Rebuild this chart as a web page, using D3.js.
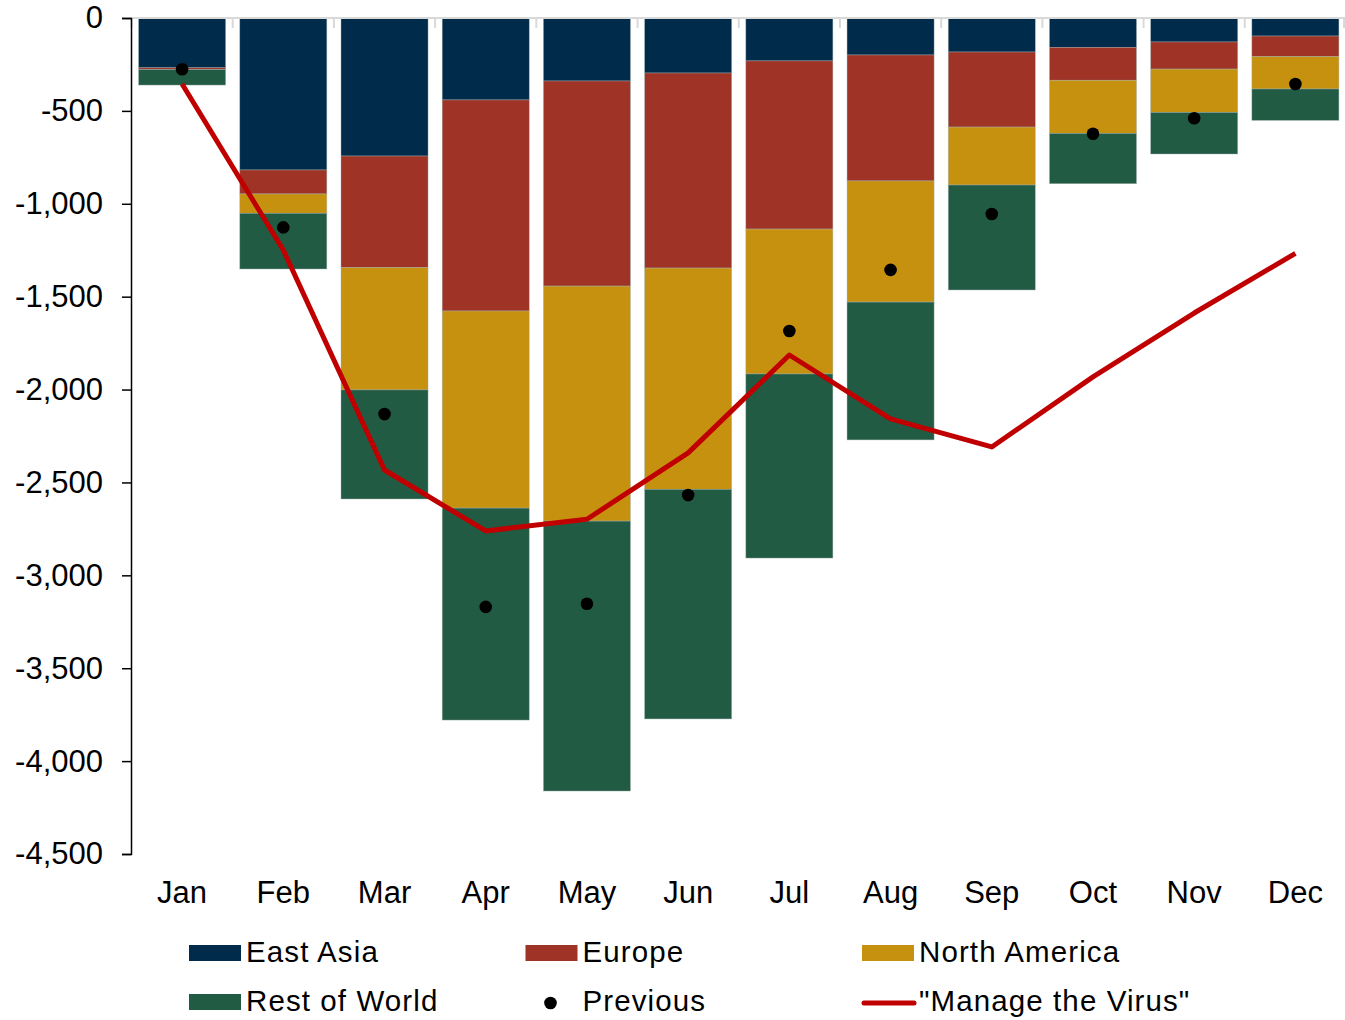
<!DOCTYPE html>
<html><head><meta charset="utf-8">
<script src="https://cdn.jsdelivr.net/npm/d3@7"></script>
<style>
body{margin:0;background:#fff;}
svg{display:block;font-family:"Liberation Sans",Arial,sans-serif;}
</style></head>
<body><svg id="c" width="1345" height="1020"></svg>
<script>
const months = ["Jan","Feb","Mar","Apr","May","Jun","Jul","Aug","Sep","Oct","Nov","Dec"];
const eastAsia     = [-268,-818,-743,-441,-339,-296,-231,-199,-183,-158,-129,-97];
const europe       = [-10,-129,-601,-1136,-1104,-1050,-905,-678,-404,-177,-146,-111];
const northAmerica = [0,-104,-658,-1061,-1265,-1191,-780,-652,-312,-286,-233,-174];
const restOfWorld  = [-83,-300,-587,-1141,-1453,-1236,-991,-742,-565,-271,-224,-169];
const previous     = [-276,-1127,-2132,-3170,-3153,-2568,-1685,-1356,-1055,-623,-540,-355];
const manageVirus  = [-355,-1249,-2433,-2761,-2698,-2341,-1814,-2158,-2309,-1932,-1588,-1267];
const yTicks = [0,-500,-1000,-1500,-2000,-2500,-3000,-3500,-4000,-4500];
const seriesNames = ["East Asia","Europe","North America","Rest of World"];
const seriesColors = ["#012b4a","#9e3326","#c79110","#225b43"];

const svg = d3.select("#c");
const x = d3.scaleBand().domain(months).range([131.5,1346]).paddingInner(0.14).paddingOuter(0.07);
const y = d3.scaleLinear().domain([-4500,0]).range([854,18]);

const seriesData = [eastAsia,europe,northAmerica,restOfWorld];
const stacks = [];
months.forEach((m,i)=>{
  let top = 0;
  seriesData.forEach((s,k)=>{
    const bottom = top + s[i];
    stacks.push({m, k, y0: top, y1: bottom});
    top = bottom;
  });
});

svg.append("g").selectAll("rect").data(stacks.filter(d=>d.y0!==d.y1)).join("rect")
  .attr("x", d=>x(d.m)).attr("width", x.bandwidth())
  .attr("y", d=>y(d.y0)).attr("height", d=>y(d.y1)-y(d.y0))
  .attr("fill", d=>seriesColors[d.k])
  .attr("stroke","#9fb0b0").attr("stroke-width",0.6).attr("stroke-opacity",0.7);

svg.append("line").attr("x1",131).attr("x2",1345).attr("y1",y(0)).attr("y2",y(0))
  .attr("stroke","#d9d9d9").attr("stroke-width",2);
const step = x.step();
const bounds = d3.range(months.length+1).map(i=>131.5 + i*step - (i===months.length?2:0));
svg.append("g").selectAll("line").data(bounds).join("line")
  .attr("x1",d=>d).attr("x2",d=>d).attr("y1",y(0)).attr("y2",y(0)+10)
  .attr("stroke","#d9d9d9").attr("stroke-width",2);

const yAxis = d3.axisLeft(y).tickValues(yTicks).tickSize(9).tickPadding(19)
  .tickFormat(d=>d3.format(",")(d).replace("−","-"));
const gy = svg.append("g").attr("transform","translate(131,0)").call(yAxis);
gy.select(".domain").attr("stroke","#000").attr("stroke-width",1.5);
gy.selectAll(".tick line").attr("stroke","#000").attr("stroke-width",1.5);
gy.selectAll(".tick text").attr("font-size",31).attr("fill","#000")
  .attr("font-family","'Liberation Sans',Arial,sans-serif");

svg.append("g").selectAll("text").data(months).join("text")
  .attr("x", d=>x(d)+x.bandwidth()/2).attr("y",903)
  .attr("text-anchor","middle").attr("font-size",31).attr("fill","#000").text(d=>d);

const line = d3.line().x((d,i)=>x(months[i])+x.bandwidth()/2).y(d=>y(d));
svg.append("path").datum(manageVirus).attr("d",line)
  .attr("fill","none").attr("stroke","#c00000").attr("stroke-width",5).attr("stroke-linejoin","round");

svg.append("g").selectAll("circle").data(previous).join("circle")
  .attr("cx",(d,i)=>x(months[i])+x.bandwidth()/2).attr("cy",d=>y(d)).attr("r",6.3).attr("fill","#000");

const legendItems = [
  {name:"East Asia", type:"rect", color:seriesColors[0], col:0,row:0},
  {name:"Europe", type:"rect", color:seriesColors[1], col:1,row:0},
  {name:"North America", type:"rect", color:seriesColors[2], col:2,row:0},
  {name:"Rest of World", type:"rect", color:seriesColors[3], col:0,row:1},
  {name:"Previous", type:"dot", color:"#000", col:1,row:1},
  {name:"\"Manage the Virus\"", type:"line", color:"#c00000", col:2,row:1}
];
const lg = svg.append("g");
legendItems.forEach(it=>{
  const lx = 189 + it.col*336.5, base = 962 + it.row*49;
  const g = lg.append("g");
  if(it.type==="rect") g.append("rect").attr("x",lx).attr("y",base-17).attr("width",52).attr("height",16).attr("fill",it.color);
  if(it.type==="dot") g.append("circle").attr("cx",lx+25).attr("cy",base-8).attr("r",6.3).attr("fill",it.color);
  if(it.type==="line") g.append("line").attr("x1",lx+2).attr("x2",lx+52).attr("y1",base-8).attr("y2",base-8)
      .attr("stroke",it.color).attr("stroke-width",5).attr("stroke-linecap","round");
  g.append("text").attr("x",lx+57).attr("y",base).attr("font-size",29.5).attr("fill","#000")
    .attr("letter-spacing","1.1px").text(it.name);
});
</script></body></html>
